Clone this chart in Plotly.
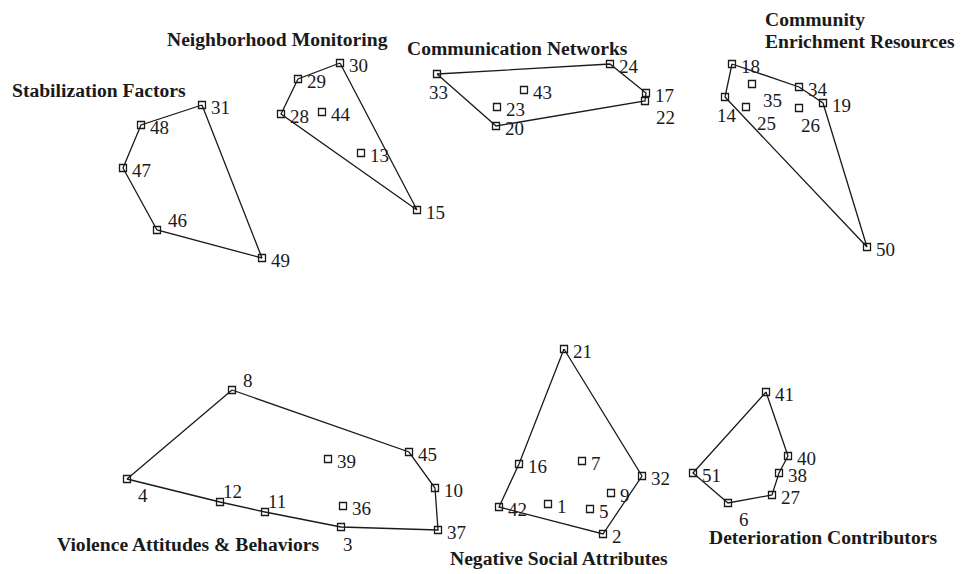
import plotly.graph_objects as go

# ---- data (map coordinates; y grows downward) ----
point_ids = [31, 48, 47, 46, 49,
             30, 29, 28, 44, 13, 15,
             33, 24, 17, 22, 43, 23, 20,
             18, 14, 35, 25, 34, 26, 19, 50,
             8, 4, 12, 11, 3, 37, 10, 45, 39, 36,
             21, 16, 7, 32, 9, 42, 1, 5, 2,
             41, 40, 38, 27, 6, 51]
point_x = [202, 141, 123, 157, 262,
           340, 298, 281, 322, 361, 417,
           437, 610, 646, 645, 524, 497, 496,
           732, 725, 752, 746, 799, 799, 823, 867,
           232, 127, 220, 265, 341, 438, 435, 409, 328, 343,
           564, 519, 582, 642, 611, 499, 548, 590, 603,
           766, 788, 779, 772, 728, 693]
point_y = [105, 125, 168, 230, 258,
           63, 79, 114, 112, 153, 210,
           74, 64, 93, 101, 90, 107, 126,
           64, 97, 84, 107, 87, 108, 103, 247,
           390, 479, 502, 512, 527, 530, 488, 452, 459, 506,
           349, 464, 461, 476, 493, 507, 504, 509, 534,
           392, 456, 473, 495, 503, 473]
label_side = ["r", "r", "r", "tr", "r",
              "r", "r", "r", "r", "r", "r",
              "bl", "r", "r", "br", "r", "r", "r",
              "r", "bl", "br", "br", "r", "b", "r", "r",
              "tr", "br", "t", "t", "b", "r", "r", "r", "r", "r",
              "r", "r", "r", "r", "r", "r", "r", "r", "r",
              "r", "r", "r", "r", "br", "r"]

cluster_names = ["Stabilization Factors", "Neighborhood Monitoring", "Communication Networks",
                 "Community<br>Enrichment Resources", "Violence Attitudes & Behaviors",
                 "Negative Social Attributes", "Deterioration Contributors"]
cluster_hulls = [[31, 48, 47, 46, 49],
                 [30, 29, 28, 15],
                 [33, 24, 17, 22, 20],
                 [18, 34, 19, 50, 14],
                 [8, 45, 10, 37, 3, 11, 12, 4],
                 [21, 32, 2, 42, 16],
                 [41, 40, 38, 27, 6, 51]]
title_x = [12, 167, 407, 765, 57, 450, 709]
title_y = [90, 39, 48, 19, 544, 558, 537]

# ---- styling ----
INK = "#1a1a1a"
SERIF = "Liberation Serif, Times New Roman, serif"
# offsets (px) of a label's left edge / vertical centre from its marker
OFFSETS = {"r": (9, 2), "tr": (11, -10), "t": (3, -11), "br": (11, 16),
           "b": (2, 17), "bl": (-8, 18)}
BODY = 8  # page margin of the html body

lookup = {pid: (x, y) for pid, x, y in zip(point_ids, point_x, point_y)}
fig = go.Figure()

for hull in cluster_hulls:
    ring = hull + [hull[0]]
    fig.add_trace(go.Scatter(
        x=[lookup[p][0] for p in ring], y=[lookup[p][1] for p in ring],
        mode="lines", line=dict(color=INK, width=1.3),
        hoverinfo="skip", showlegend=False))

fig.add_trace(go.Scatter(
    x=point_x, y=point_y, mode="markers",
    marker=dict(symbol="square-open", size=7, color=INK, line=dict(width=1.3)),
    hovertext=[str(p) for p in point_ids], hoverinfo="text", showlegend=False))

for pid, x, y, side in zip(point_ids, point_x, point_y, label_side):
    dx, dy = OFFSETS[side]
    fig.add_annotation(x=x, y=y, text=str(pid), showarrow=False,
                       xanchor="left", yanchor="middle", xshift=dx - 2, yshift=-dy,
                       font=dict(family=SERIF, size=19, color=INK))

for name, tx, ty in zip(cluster_names, title_x, title_y):
    for i, line in enumerate(name.split("<br>")):
        fig.add_annotation(x=tx, y=ty, text="<b>" + line + "</b>", showarrow=False,
                           xanchor="left", yanchor="middle", align="left",
                           xshift=-2, yshift=-22 * i,
                           font=dict(family=SERIF, size=19.6, color=INK))

fig.update_layout(
    width=963 - BODY, height=574 - BODY, margin=dict(l=0, r=0, t=0, b=0),
    paper_bgcolor="white", plot_bgcolor="white",
    xaxis=dict(range=[BODY, 963], visible=False, fixedrange=True),
    yaxis=dict(range=[574, BODY], visible=False, fixedrange=True),
)

fig.write_html("out.html")
